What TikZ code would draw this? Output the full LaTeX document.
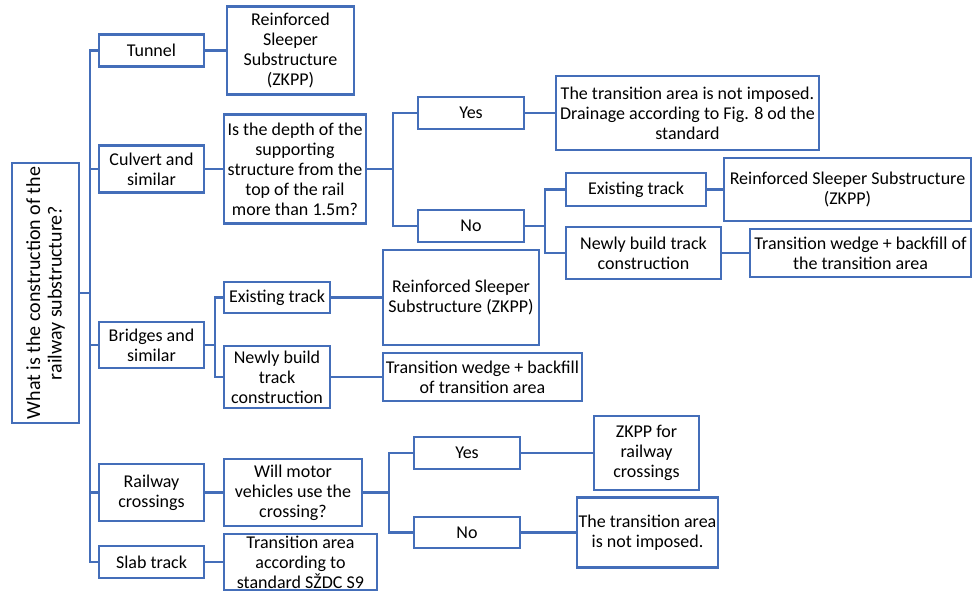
\documentclass[tikz,border=0pt]{standalone}
\usepackage{fontspec}
\setmainfont{Carlito}
\definecolor{frame}{RGB}{68,110,185}
\tikzstyle{box}=[draw=frame,line width=2.4pt,align=center,inner sep=1pt,font=\fontsize{18}{20}\selectfont]
\tikzstyle{link}=[draw=frame,line width=2.2pt]

\begin{document}
\begin{tikzpicture}[x=1pt,y=-1pt]
  \useasboundingbox (0,0) rectangle (973,592);

  % The question on the left, standing on its side
  \node[box,rotate=90,minimum width=260pt,minimum height=67pt,font=\fontsize{20}{21.5}\selectfont] (main) at (45.5,293)
    {What is the construction of the\\railway substructure?};

  % Then all the other boxes: centre/width/height/name/text
  \foreach \pos/\w/\h/\name/\txt in {
      {(151.5,50.5)/105/32/tunnel/Tunnel},
      {(151.5,169)/105/47/culvert/Culvert and\\similar},
      {(151.5,345)/105/46/bridges/Bridges and\\similar},
      {(151.5,492.5)/105/57/rail/Railway\\crossings},
      {(151.5,562)/105/32/slab/Slab track},
      {(290.5,50.5)/127/88/zkppA/Reinforced\\Sleeper\\Substructure\\(ZKPP)},
      {(295,169)/142/109/depth/Is the depth of the\\supporting\\structure from the\\top of the rail\\more than 1.5m?},
      {(471,113)/106/32/yesA/Yes},
      {(471,226)/106/32/noA/No},
      {(687.5,113)/263/74/freeA/The transition area is not imposed.\\Drainage according to Fig. 8 od the\\standard},
      {(636,189.5)/140/33/oldA/Existing track},
      {(643.5,253)/155/52/newA/Newly build track\\construction},
      {(847.5,189.5)/247/63/zkppB/Reinforced Sleeper Substructure\\(ZKPP)},
      {(860.5,253)/221/48/wedgeA/Transition wedge + backfill of\\the transition area},
      {(277,297.5)/106/31/oldB/Existing track},
      {(277,377)/106/62/newB/Newly build\\track\\construction},
      {(461,297.5)/156/95/zkppC/Reinforced Sleeper\\Substructure (ZKPP)},
      {(482.5,377)/199/48/wedgeB/Transition wedge + backfill\\of transition area},
      {(293,492.5)/138/67/motor/Will motor\\vehicles use the\\crossing?},
      {(467,453)/106/32/yesB/Yes},
      {(467,532.5)/106/31/noB/No},
      {(646.5,453)/105/74/zkppD/ZKPP for\\railway\\crossings},
      {(647.5,532.5)/141/70/freeB/The transition area\\is not imposed.},
      {(300.5,562)/153/56/slabres/Transition area\\according to\\standard SŽDC S9}} {
    \node[box,minimum width=\w pt,minimum height=\h pt] (\name) at \pos {\txt};
  }

  % Branching connectors: out to the side, then down to each box
  % (main is turned, so its right side is its south anchor)
  \foreach \dest in {tunnel, culvert, bridges, rail, slab}
    \path[link] (main.south) -- ++(10,0) |- (\dest.west);
  \foreach \source/\off/\dest in {depth/26/yesA, depth/26/noA, noA/20/oldA, noA/20/newA,
      bridges/10/oldB, bridges/10/newB, motor/26/yesB, motor/26/noB}
    \path[link] (\source.east) -- ++(\off,0) |- (\dest.west);

  % Straight connectors
  \foreach \source/\dest in {tunnel/zkppA, culvert/depth, yesA/freeA, oldA/zkppB, newA/wedgeA,
      oldB/zkppC, newB/wedgeB, rail/motor, yesB/zkppD, noB/freeB, slab/slabres}
    \path[link] (\source) -- (\dest);
\end{tikzpicture}
\end{document}
